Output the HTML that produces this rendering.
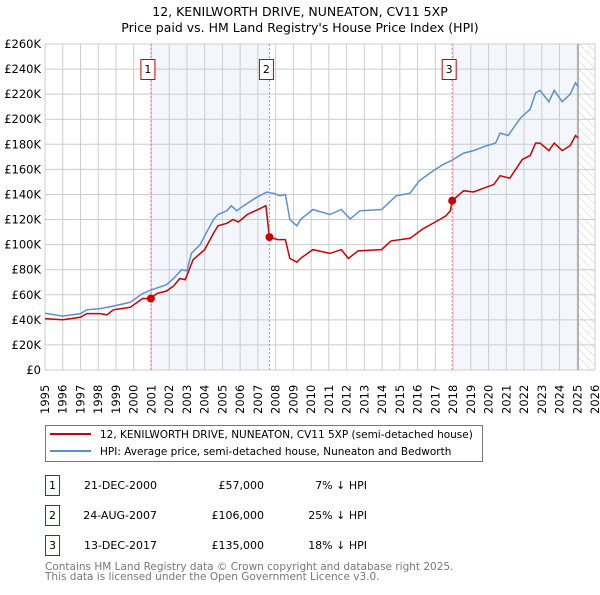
<!DOCTYPE html>
<html><head><meta charset="utf-8"><style>
body{margin:0;background:#fff;width:600px;height:590px;overflow:hidden;font-family:"Liberation Sans","DejaVu Sans",sans-serif}
svg text{font-family:"DejaVu Sans","Liberation Sans",sans-serif}
</style></head><body>
<svg id="c" width="600" height="590" viewBox="0 0 600 590">
<defs><pattern id="hatch" width="6" height="6" patternUnits="userSpaceOnUse" patternTransform="rotate(-45)"><line x1="0" y1="0" x2="0" y2="6" stroke="#ccc" stroke-width="1"/></pattern></defs>
<text x="300" y="16" text-anchor="middle" font-size="12.5">12, KENILWORTH DRIVE, NUNEATON, CV11 5XP</text>
<text x="300" y="32" text-anchor="middle" font-size="12.5">Price paid vs. HM Land Registry's House Price Index (HPI)</text>
<g id="bg"></g><g id="grid"></g><g id="series"></g><g id="marks"></g><g id="axes"></g>
<rect x="45.5" y="425.5" width="437" height="36" fill="#fff" stroke="#777"/>
<line x1="50" y1="434" x2="91" y2="434" stroke="#cc0000" stroke-width="2"/>
<text x="100" y="438" font-size="10.5">12, KENILWORTH DRIVE, NUNEATON, CV11 5XP (semi-detached house)</text>
<line x1="50" y1="451" x2="91" y2="451" stroke="#5b8fd4" stroke-width="2"/>
<text x="100" y="455" font-size="10.5">HPI: Average price, semi-detached house, Nuneaton and Bedworth</text>
<g id="table" font-size="11"></g>
<text x="45" y="570" font-size="10.5" fill="#777">Contains HM Land Registry data © Crown copyright and database right 2025.</text>
<text x="45" y="580" font-size="10.5" fill="#777">This data is licensed under the Open Government Licence v3.0.</text>
</svg>
<script>
const hpiYears=[1995,1996,1997,1997.35,1998.1,1998.85,1999.8,2000.5,2001,2001.85,2002.25,2002.7,2003,2003.25,2003.75,2004,2004.5,2004.75,2005.25,2005.5,2005.8,2006.2,2006.85,2007.5,2007.85,2008.25,2008.55,2008.8,2009.2,2009.4,2010.1,2011.06,2011.7,2012.2,2012.75,2013.97,2014.8,2015.57,2016.1,2016.9,2017.45,2017.9,2018.6,2019.15,2019.9,2020.4,2020.65,2021.1,2021.8,2022.35,2022.65,2022.9,2023.4,2023.7,2024.15,2024.6,2024.9,2025.05];
const hpiValues=[45.3,43,45,48,49,51,54,61,64,68,73,80,79,93,100,107,120,124,127,131,127,131,137,142,141,139,140,120,115,120,128,124,128,120.5,127,128,139,141,151,159,164,167,173,175,179,181,189,187,201,208,221,223,214,223,214,220,229,226];
const priceYears=[1995,1996,1997,1997.35,1998.1,1998.5,1998.85,1999.8,2000.5,2000.97,2001.3,2001.85,2002.25,2002.6,2002.9,2003.35,2004,2004.5,2004.75,2005.25,2005.6,2005.9,2006.4,2006.85,2007.45,2007.65,2008.1,2008.55,2008.8,2009.2,2009.4,2010.1,2011.06,2011.7,2012.1,2012.65,2013.97,2014.5,2015.57,2016.3,2017,2017.6,2017.85,2017.95,2018.6,2019.15,2020.3,2020.65,2021.2,2021.9,2022.35,2022.65,2022.9,2023.4,2023.7,2024.15,2024.6,2024.9,2025.05];
const priceValues=[41,40,42,45,45,44,48,50,57,57,61,63,67,73,72,88,96,109,115,117,120,118,124,127,131,106,104,104,89,86,89,96,93,96,89,95,96,103,105,112.5,118,123,127,135,143,142,148,155,153,168,171,181,181,175,181,175,179,187,185];
const saleLabels=["1","2","3"];
const saleYears=[2000.97,2007.65,2017.95];
const saleValues=[57,106,135];
const saleDates=["21-DEC-2000","24-AUG-2007","13-DEC-2017"];
const salePrices=["£57,000","£106,000","£135,000"];
const saleDiffs=["7% ↓ HPI","25% ↓ HPI","18% ↓ HPI"];
const yTicks=[0,20,40,60,80,100,120,140,160,180,200,220,240,260];
const xTicks=[1995,1996,1997,1998,1999,2000,2001,2002,2003,2004,2005,2006,2007,2008,2009,2010,2011,2012,2013,2014,2015,2016,2017,2018,2019,2020,2021,2022,2023,2024,2025,2026];
const dataEnd=2025.05;
const L=45,R=595,T=44,B=370;
const X=y=>L+(y-1995)/(2026-1995)*(R-L);
const Y=v=>B-v/260*(B-T);
const NS="http://www.w3.org/2000/svg";
function mk(p,tag,at){const e=document.createElementNS(NS,tag);for(const k in at)e.setAttribute(k,at[k]);p.appendChild(e);return e;}
const bg=document.getElementById('bg'),grid=document.getElementById('grid'),ser=document.getElementById('series'),marks=document.getElementById('marks'),axes=document.getElementById('axes'),tbl=document.getElementById('table');
let r=mk(bg,'rect',{x:L,y:T,width:R-L,height:B-T,fill:'#fff'});


r=mk(bg,'rect',{x:X(saleYears[0]),y:T,width:X(saleYears[1])-X(saleYears[0]),height:B-T,fill:'#eef3fc',opacity:0.7});


r=mk(bg,'rect',{x:X(saleYears[2]),y:T,width:X(dataEnd)-X(saleYears[2]),height:B-T,fill:'#eef3fc',opacity:0.7});


r=mk(bg,'rect',{x:X(dataEnd),y:T,width:R-X(dataEnd),height:B-T,fill:'url(#hatch)'});


yTicks.forEach(v=>{const l=mk(grid,'line',{x1:L,x2:R,y1:Y(v),y2:Y(v),stroke:'#ccc','stroke-width':1});


const t=mk(axes,'text',{x:L-4,y:Y(v)+4,'text-anchor':'end','font-size':11.5});t.textContent=v===0?'£0':'£'+v+'K';

});
xTicks.forEach(y=>{const l=mk(grid,'line',{x1:X(y),x2:X(y),y1:T,y2:B,stroke:'#ccc','stroke-width':1});


const t=mk(axes,'text',{transform:`translate(${X(y)+4},${B+44}) rotate(-90)`,'font-size':11.5});t.textContent=y;

});
let l=mk(grid,'line',{x1:X(dataEnd),x2:X(dataEnd),y1:T,y2:B,stroke:'#888','stroke-width':1});


const path=(xs,vs)=>xs.map((x,i)=>(i?'L':'M')+X(x).toFixed(1)+','+Y(vs[i]).toFixed(1)).join('');
let p=mk(ser,'path',{d:path(hpiYears,hpiValues),fill:'none',stroke:'#5b8fd4','stroke-width':1.5});


p=mk(ser,'path',{d:path(priceYears,priceValues),fill:'none',stroke:'#cc0000','stroke-width':1.5});


saleYears.forEach((y,i)=>{
const v=mk(marks,'line',{x1:X(y),x2:X(y),y1:T,y2:B,stroke:'#f08080','stroke-width':1,'stroke-dasharray':'2,2'});


const c=mk(marks,'circle',{cx:X(y),cy:Y(saleValues[i]),r:4,fill:'#cc0000'});


const b=mk(marks,'rect',{x:X(y)-10,y:59.5,width:14,height:20,fill:'#fff',stroke:'#cc0000'});


const t=mk(marks,'text',{x:X(y)-3,y:73,'text-anchor':'middle','font-size':11});t.textContent=saleLabels[i];


const yy=475+i*30;
const tb=mk(tbl,'rect',{x:45.5,y:yy+0.5,width:14,height:20,fill:'#fff',stroke:'#cc0000'});


const cells=[[52.5,saleLabels[i],'middle'],[157,saleDates[i],'end'],[264,salePrices[i],'end'],[367,saleDiffs[i],'end']];
cells.forEach(cl=>{const e=mk(tbl,'text',{x:cl[0],y:yy+14,'text-anchor':cl[2]});e.textContent=cl[1];

});
});
</script>
</body></html>
